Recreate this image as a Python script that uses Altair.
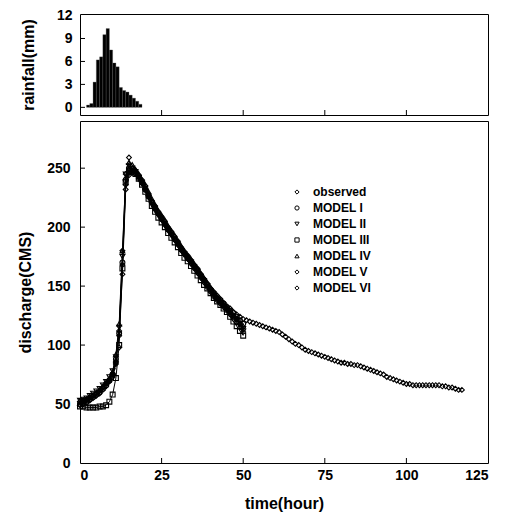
import altair as alt
import pandas as pd

# ---------------- data ----------------
hours_obs = list(range(0, 118))
observed = [52, 53, 53, 55, 57, 59, 61, 64, 68, 71,
            76, 85, 98, 180, 245, 259, 250, 248, 244, 240,
            235, 228, 222, 218, 213, 209, 205, 200, 196, 192,
            188, 183, 179, 176, 172, 168, 165, 160, 156, 152,
            148, 145, 142, 139, 136, 133, 131, 128, 126, 124,
            122, 121, 120, 119, 118, 117, 116, 115, 114, 113,
            112, 111, 109, 107, 105, 103, 101, 100, 98, 96,
            95, 94, 93, 92, 91, 90, 89, 88, 87, 86,
            85, 85, 84, 84, 83, 83, 82, 81, 80, 79,
            78, 77, 76, 75, 73, 72, 71, 70, 69, 68,
            67, 67, 66, 66, 66, 66, 66, 66, 66, 66,
            66, 65, 65, 64, 64, 63, 62, 62]

hours_model = list(range(0, 51))
model_1 = [50, 51, 52, 54, 56, 58, 60, 63, 66, 70,
           75, 88, 110, 170, 240, 250, 249, 246, 243, 238,
           232, 226, 221, 216, 212, 207, 203, 198, 195, 190,
           186, 181, 178, 174, 171, 167, 163, 159, 155, 151,
           147, 144, 140, 138, 135, 132, 129, 127, 124, 121, 118]
model_2 = [53, 54, 55, 57, 59, 61, 63, 66, 69, 73,
           78, 90, 115, 175, 245, 252, 250, 247, 242, 237,
           231, 225, 219, 214, 210, 206, 201, 197, 193, 189,
           185, 180, 177, 173, 170, 166, 162, 158, 154, 150,
           146, 142, 139, 136, 133, 130, 127, 125, 122, 118, 114]
model_3 = [48, 48, 47, 47, 47, 47, 48, 48, 49, 52,
           58, 72, 100, 165, 238, 248, 247, 245, 241, 236,
           230, 224, 218, 213, 208, 204, 200, 195, 191, 187,
           183, 178, 174, 171, 167, 163, 159, 155, 151, 148,
           144, 140, 137, 134, 131, 128, 124, 120, 116, 112, 108]
model_4 = [51, 52, 54, 56, 58, 60, 62, 65, 68, 72,
           77, 92, 118, 180, 242, 255, 253, 249, 245, 240,
           236, 230, 224, 219, 214, 210, 206, 201, 197, 193,
           188, 184, 180, 176, 173, 169, 165, 161, 157, 153,
           149, 145, 141, 138, 135, 132, 128, 125, 122, 119, 116]
model_5 = [52, 53, 54, 56, 57, 59, 61, 64, 67, 70,
           75, 86, 112, 168, 236, 246, 248, 247, 244, 239,
           233, 227, 222, 217, 212, 208, 203, 199, 194, 190,
           186, 182, 178, 175, 171, 167, 164, 160, 156, 152,
           148, 143, 140, 137, 134, 131, 128, 125, 122, 118, 113]
model_6 = [49, 50, 51, 53, 55, 57, 59, 62, 65, 69,
           73, 84, 108, 160, 232, 244, 246, 245, 241, 237,
           232, 227, 221, 216, 211, 207, 202, 198, 194, 189,
           185, 181, 177, 173, 169, 165, 161, 157, 153, 149,
           145, 141, 138, 135, 132, 129, 126, 122, 119, 115, 111]

rain_hour = list(range(2, 19))
rain_mm = [0.3, 0.5, 3.3, 6.2, 6.6, 9.5, 10.3, 7.5, 5.8, 5.3,
           2.6, 2.2, 2.0, 1.6, 1.2, 0.8, 0.4]

x_ticks = [25, 50, 75, 100]
q_ticks = [50, 100, 150, 200, 250]
r_ticks = [3, 6, 9]

series_names = ["observed", "MODEL I", "MODEL II", "MODEL III",
                "MODEL IV", "MODEL V", "MODEL VI"]
series_shapes = ["diamond", "circle", "triangle-down", "square",
                 "triangle-up", "diamond", "diamond"]

# ---------------- tables ----------------
rows = [{"hour": h, "q": v, "series": "observed", "order": 0}
        for h, v in zip(hours_obs, observed)]
models = [model_1, model_2, model_3, model_4, model_5, model_6]
for i, m in enumerate(models):
    for h, v in zip(hours_model, m):
        rows.append({"hour": h, "q": v, "series": series_names[i + 1], "order": i + 1})
df = pd.DataFrame(rows)
df_models = df[df["series"] != "observed"]

df_rain = pd.DataFrame({"hour": rain_hour,
                        "hour_end": [h + 1 for h in rain_hour],
                        "rain": rain_mm})

FONT = "Liberation Sans"
W = 408
H_TOP = 101
H_BOT = 342
TICK = 5

xscale = alt.Scale(domain=[0, 125], nice=False, zero=False)
qscale = alt.Scale(domain=[0, 290], nice=False)
rscale = alt.Scale(domain=[-1, 12.2], nice=False)

r_axis = alt.Axis(values=[0, 3, 6, 9, 12], title="rainfall(mm)",
                  titlePadding=20, labelPadding=8, labelOverlap=False)
q_axis = alt.Axis(values=[0, 50, 100, 150, 200, 250], title="discharge(CMS)",
                  titlePadding=13, labelPadding=10, labelOverlap=False)
t_axis = alt.Axis(values=[0, 25, 50, 75, 100, 125], title="time(hour)",
                  labelPadding=5, titlePadding=13, labelOverlap=False)

# ---------------- top panel: rainfall ----------------
bars = alt.Chart(df_rain).mark_bar(color="black", stroke="#555555", strokeWidth=0.3).encode(
    x=alt.X("hour:Q", scale=xscale, axis=None),
    x2="hour_end:Q",
    y=alt.Y("rain:Q", scale=rscale, axis=r_axis),
    y2=alt.datum(0),
)
top_yt = alt.Chart(pd.DataFrame({"v": [0] + r_ticks})).mark_rule(color="black", strokeWidth=1).encode(
    y=alt.Y("v:Q", scale=rscale, axis=r_axis), x=alt.value(0), x2=alt.value(TICK))
top_xt = alt.Chart(pd.DataFrame({"v": x_ticks})).mark_rule(color="black", strokeWidth=1).encode(
    x=alt.X("v:Q", scale=xscale, axis=None), y=alt.value(H_TOP), y2=alt.value(H_TOP - TICK))
top = alt.layer(bars, top_yt, top_xt).properties(width=W, height=H_TOP)

# ---------------- bottom panel: discharge ----------------
lines = alt.Chart(df_models).mark_line(color="black", strokeWidth=1).encode(
    x=alt.X("hour:Q", scale=xscale, axis=t_axis),
    y=alt.Y("q:Q", scale=qscale, axis=q_axis),
    detail="series:N",
)
points = alt.Chart(df).mark_point(filled=False, color="black",
                                  strokeWidth=1.1, size=24, opacity=1).encode(
    x=alt.X("hour:Q", scale=xscale, axis=t_axis),
    y=alt.Y("q:Q", scale=qscale, axis=q_axis),
    shape=alt.Shape("series:N",
                    scale=alt.Scale(domain=series_names, range=series_shapes),
                    legend=alt.Legend(orient="none", legendX=211, legendY=172,
                                      title=None, labelFont=FONT,
                                      labelFontWeight="bold", labelFontSize=12,
                                      labelColor="black",
                                      symbolSize=18, symbolStrokeWidth=1,
                                      rowPadding=4, labelOffset=10)),
    order="order:Q",
)
bot_yt = alt.Chart(pd.DataFrame({"v": q_ticks})).mark_rule(color="black", strokeWidth=1).encode(
    y=alt.Y("v:Q", scale=qscale, axis=q_axis), x=alt.value(0), x2=alt.value(TICK))
bot_xt = alt.Chart(pd.DataFrame({"v": x_ticks})).mark_rule(color="black", strokeWidth=1).encode(
    x=alt.X("v:Q", scale=xscale, axis=t_axis), y=alt.value(H_BOT), y2=alt.value(H_BOT - TICK))
bottom = alt.layer(lines, points, bot_yt, bot_xt).properties(width=W, height=H_BOT)

chart = alt.vconcat(top, bottom, spacing=4).properties(
    padding={"left": 17, "top": 8, "right": 16, "bottom": 5},
    background="white",
).configure_view(
    stroke="black", strokeWidth=1
).configure_axis(
    domain=False, grid=False, ticks=False,
    labelFont=FONT, labelFontSize=14, labelFontWeight="bold", labelColor="black",
    titleFont=FONT, titleFontSize=16, titleFontWeight="bold", titleColor="black",
)

chart.save("out.html", embed_options={"renderer": "svg", "actions": False})
